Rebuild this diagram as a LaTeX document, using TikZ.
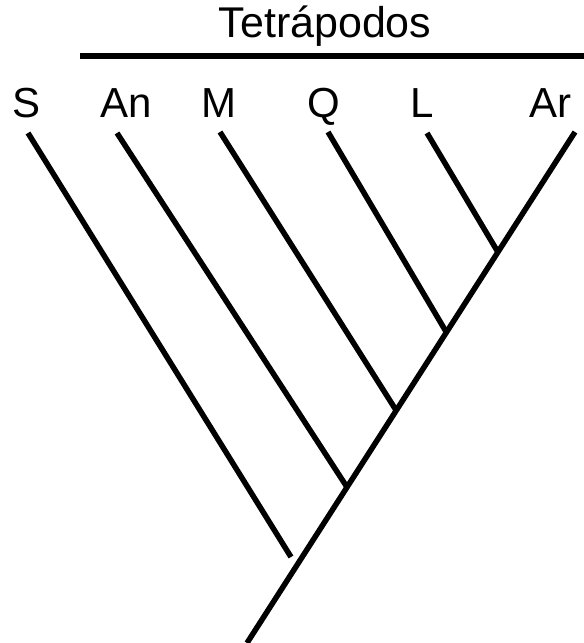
\documentclass[tikz,border=0pt]{standalone}
\usepackage{fontspec}
\setmainfont{Liberation Sans}
\usepackage{tikz}
\usetikzlibrary{calc}

\begin{document}
\begin{tikzpicture}[x=1pt,y=-1pt,line width=5.5pt,
  taxon/.style={font=\fontsize{42}{49}\selectfont,anchor=base,inner sep=0pt}]
\useasboundingbox (0,0) rectangle (584,643);
\node[taxon,font=\fontsize{43}{50}\selectfont] (tetra) at (325,37){Tetrápodos};
\coordinate (g1) at (80,56);\coordinate (g2) at (584,56);
\draw (g1)--(g2);
\node[taxon] (S) at (27,117){S};\node[taxon] (An) at (126,117){An};\node[taxon] (M) at (219,117){M};
\node[taxon] (Q) at (324,117){Q};\node[taxon] (L) at (422,117){L};\node[taxon] (Ar) at (550,117){Ar};
\coordinate (raiz) at (247,643);\coordinate (tAr) at (575,132);
\draw (raiz)--(tAr);
\path (raiz)--(tAr) coordinate[pos=.305] (jAn) coordinate[pos=.455] (jM) coordinate[pos=.608] (jQ) coordinate[pos=.765] (jL);
\coordinate (tS) at (28,133);\coordinate (jS) at (291,557);
\coordinate (tAn) at (117,133);\coordinate (tM) at (220,132);\coordinate (tQ) at (328,132);\coordinate (tL) at (427,133);
\draw (tS)--(jS);\draw (tAn)--(jAn);\draw (tM)--(jM);\draw (tQ)--(jQ);\draw (tL)--(jL);
\end{tikzpicture}
\end{document}
